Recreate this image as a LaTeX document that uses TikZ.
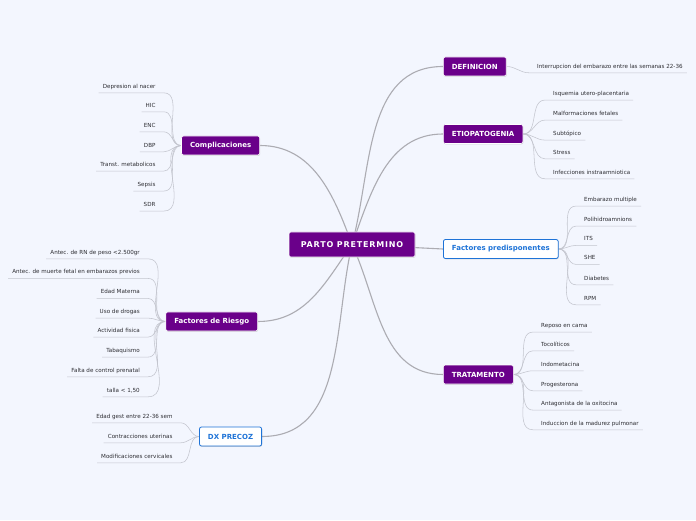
\documentclass[tikz,border=0pt]{standalone}
\usepackage{fontspec}
\setmainfont{DejaVu Sans}
\usepackage{tikz}
\usetikzlibrary{shadows}
\definecolor{mmpurple}{RGB}{106, 0, 138}
\definecolor{mmblue}{RGB}{30, 115, 215}
\definecolor{mmback}{RGB}{243, 246, 254}
\definecolor{mmline}{RGB}{172, 172, 178}
\definecolor{mmtwig}{RGB}{195, 197, 206}
\definecolor{mmtext}{RGB}{45, 45, 50}
\pgfdeclarelayer{bg}
\pgfdeclarelayer{edges}
\pgfsetlayers{bg,edges,main}

\begin{document}
\begin{tikzpicture}[x=1pt, y=1pt,
  hub/.style={fill=mmpurple, draw=white, line width=0.6pt, rounded corners=2pt,
              text=white, font=\fontsize{8}{9}\selectfont\bfseries\addfontfeature{LetterSpace=10},
              minimum width=126pt, minimum height=25pt, inner sep=0pt,
              drop shadow={shadow xshift=0.5pt, shadow yshift=-0.8pt, opacity=0.3}},
  topic/.style={fill=mmpurple, draw=white, line width=0.6pt, rounded corners=2pt,
                text=white, font=\fontsize{7}{8}\selectfont\bfseries,
                minimum height=19pt, inner xsep=8.5pt, inner ysep=0pt,
                drop shadow={shadow xshift=0.5pt, shadow yshift=-0.8pt, opacity=0.3}},
  topicb/.style={topic, fill=white, draw=mmblue, line width=0.8pt, text=mmblue},
  leaf/.style={font=\fontsize{5.6}{6.5}\selectfont, text=mmtext,
               text height=4pt, text depth=1.2pt, inner xsep=4pt, inner ysep=3.3pt},
  branch/.style={draw=mmline, line width=1.1pt},
  twig/.style={draw=mmtwig, line width=0.55pt}]
  \useasboundingbox (0,0) rectangle (696,520);
  \begin{pgfonlayer}{bg}
    \fill[mmback] (0,0) rectangle (696,520);
  \end{pgfonlayer}

  % centre and main topics
  \node[hub] (root) at (352,275.5) {PARTO PRETERMINO};
  \node[topic, anchor=west]  (defi) at (443,453.5) {DEFINICION};
  \node[topic, anchor=west]  (etio) at (443,386)   {ETIOPATOGENIA};
  \node[topicb, anchor=west] (fpre) at (443,271)   {Factores predisponentes};
  \node[topic, anchor=west]  (trat) at (443,145.5) {TRATAMENTO};
  \node[topic, anchor=east]  (comp) at (260,374.5) {Complicaciones};
  \node[topic, anchor=east]  (frie) at (258,198.5) {Factores de Riesgo};
  \node[topicb, anchor=east] (dxpr) at (262,83.5)  {DX PRECOZ};

  % right side leaves
  \node[leaf, anchor=west] (defi1) at (533,453.3) {Interrupcion del embarazo entre las semanas 22-36};

  \node[leaf, anchor=west] (etio1) at (549,426)   {Isquemia utero-placentaria};
  \node[leaf, anchor=west] (etio2) at (549,406)   {Malformaciones fetales};
  \node[leaf, anchor=west] (etio3) at (549,386)   {Subtópico};
  \node[leaf, anchor=west] (etio4) at (549,367.3) {Stress};
  \node[leaf, anchor=west] (etio5) at (549,347.3) {Infecciones instraamniotica};

  \node[leaf, anchor=west] (fpre1) at (580,320)   {Embarazo multiple};
  \node[leaf, anchor=west] (fpre2) at (580,300)   {Polihidroamnions};
  \node[leaf, anchor=west] (fpre3) at (580,280.7) {ITS};
  \node[leaf, anchor=west] (fpre4) at (580,261.7) {SHE};
  \node[leaf, anchor=west] (fpre5) at (580,241.3) {Diabetes};
  \node[leaf, anchor=west] (fpre6) at (580,221.3) {RPM};

  \node[leaf, anchor=west] (trat1) at (537,194)   {Reposo en cama};
  \node[leaf, anchor=west] (trat2) at (537,175.3) {Tocolíticos};
  \node[leaf, anchor=west] (trat3) at (537,155.3) {Indometacina};
  \node[leaf, anchor=west] (trat4) at (537,135.3) {Progesterona};
  \node[leaf, anchor=west] (trat5) at (537,116)   {Antagonista de la oxitocina};
  \node[leaf, anchor=west] (trat6) at (537,96.3)  {Induccion de la madurez pulmonar};

  % left side leaves
  \node[leaf, anchor=east] (comp1) at (159.7,433.3) {Depresion al nacer};
  \node[leaf, anchor=east] (comp2) at (159.7,414.3) {HIC};
  \node[leaf, anchor=east] (comp3) at (159.7,394.3) {ENC};
  \node[leaf, anchor=east] (comp4) at (159.7,374.3) {DBP};
  \node[leaf, anchor=east] (comp5) at (159.7,355)   {Transt. metabolicos};
  \node[leaf, anchor=east] (comp6) at (159.7,335)   {Sepsis};
  \node[leaf, anchor=east] (comp7) at (159.7,315)   {SDR};

  \node[leaf, anchor=east] (frie1) at (144,267.3) {Antec. de RN de peso <2.500gr};
  \node[leaf, anchor=east] (frie2) at (144,247.7) {Antec. de muerte fetal en embarazos previos};
  \node[leaf, anchor=east] (frie3) at (144,227.7) {Edad Materna};
  \node[leaf, anchor=east] (frie4) at (144,208)   {Uso de drogas};
  \node[leaf, anchor=east] (frie5) at (144,189)   {Actividad fisica};
  \node[leaf, anchor=east] (frie6) at (144,169)   {Tabaquismo};
  \node[leaf, anchor=east] (frie7) at (144,149.3) {Falta de control prenatal};
  \node[leaf, anchor=east] (frie8) at (144,129.3) {talla < 1,50};

  \node[leaf, anchor=east] (dxpr1) at (176.7,103.3) {Edad gest entre 22-36 sem};
  \node[leaf, anchor=east] (dxpr2) at (176.7,83.3)  {Contracciones uterinas};
  \node[leaf, anchor=east] (dxpr3) at (176.7,63.3)  {Modificaciones cervicales};

  \begin{pgfonlayer}{edges}
    % main branches
    \draw[branch] (root.center) to[out=75, in=180] (defi.west);
    \draw[branch] (root.center) to[out=70, in=180] (etio.west);
    \draw[branch] (root.center) -- (fpre.west);
    \draw[branch] (root.center) to[out=-65, in=180] (trat.west);
    \draw[branch] (root.center) to[out=110, in=0] (comp.east);
    \draw[branch] (root.center) to[out=-125, in=0] (frie.east);
    \draw[branch] (root.center) to[out=-103, in=0] (dxpr.east);
    % twigs to the right
    \draw[twig] (defi.east) to[out=0, in=180] ([xshift=-4pt]defi1.south west) -- (defi1.south east);
    \draw[twig] (etio.east) to[out=0, in=180] ([xshift=-4pt]etio1.south west) -- (etio1.south east);
    \draw[twig] (etio.east) to[out=0, in=180] ([xshift=-4pt]etio2.south west) -- (etio2.south east);
    \draw[twig] (etio.east) to[out=0, in=180] ([xshift=-4pt]etio3.south west) -- (etio3.south east);
    \draw[twig] (etio.east) to[out=0, in=180] ([xshift=-4pt]etio4.south west) -- (etio4.south east);
    \draw[twig] (etio.east) to[out=0, in=180] ([xshift=-4pt]etio5.south west) -- (etio5.south east);
    \draw[twig] (fpre.east) to[out=0, in=180] ([xshift=-4pt]fpre1.south west) -- (fpre1.south east);
    \draw[twig] (fpre.east) to[out=0, in=180] ([xshift=-4pt]fpre2.south west) -- (fpre2.south east);
    \draw[twig] (fpre.east) to[out=0, in=180] ([xshift=-4pt]fpre3.south west) -- (fpre3.south east);
    \draw[twig] (fpre.east) to[out=0, in=180] ([xshift=-4pt]fpre4.south west) -- (fpre4.south east);
    \draw[twig] (fpre.east) to[out=0, in=180] ([xshift=-4pt]fpre5.south west) -- (fpre5.south east);
    \draw[twig] (fpre.east) to[out=0, in=180] ([xshift=-4pt]fpre6.south west) -- (fpre6.south east);
    \draw[twig] (trat.east) to[out=0, in=180] ([xshift=-4pt]trat1.south west) -- (trat1.south east);
    \draw[twig] (trat.east) to[out=0, in=180] ([xshift=-4pt]trat2.south west) -- (trat2.south east);
    \draw[twig] (trat.east) to[out=0, in=180] ([xshift=-4pt]trat3.south west) -- (trat3.south east);
    \draw[twig] (trat.east) to[out=0, in=180] ([xshift=-4pt]trat4.south west) -- (trat4.south east);
    \draw[twig] (trat.east) to[out=0, in=180] ([xshift=-4pt]trat5.south west) -- (trat5.south east);
    \draw[twig] (trat.east) to[out=0, in=180] ([xshift=-4pt]trat6.south west) -- (trat6.south east);
    % twigs to the left
    \draw[twig] (comp.west) to[out=180, in=0] ([xshift=4pt]comp1.south east) -- (comp1.south west);
    \draw[twig] (comp.west) to[out=180, in=0] ([xshift=4pt]comp2.south east) -- (comp2.south west);
    \draw[twig] (comp.west) to[out=180, in=0] ([xshift=4pt]comp3.south east) -- (comp3.south west);
    \draw[twig] (comp.west) to[out=180, in=0] ([xshift=4pt]comp4.south east) -- (comp4.south west);
    \draw[twig] (comp.west) to[out=180, in=0] ([xshift=4pt]comp5.south east) -- (comp5.south west);
    \draw[twig] (comp.west) to[out=180, in=0] ([xshift=4pt]comp6.south east) -- (comp6.south west);
    \draw[twig] (comp.west) to[out=180, in=0] ([xshift=4pt]comp7.south east) -- (comp7.south west);
    \draw[twig] (frie.west) to[out=180, in=0] ([xshift=4pt]frie1.south east) -- (frie1.south west);
    \draw[twig] (frie.west) to[out=180, in=0] ([xshift=4pt]frie2.south east) -- (frie2.south west);
    \draw[twig] (frie.west) to[out=180, in=0] ([xshift=4pt]frie3.south east) -- (frie3.south west);
    \draw[twig] (frie.west) to[out=180, in=0] ([xshift=4pt]frie4.south east) -- (frie4.south west);
    \draw[twig] (frie.west) to[out=180, in=0] ([xshift=4pt]frie5.south east) -- (frie5.south west);
    \draw[twig] (frie.west) to[out=180, in=0] ([xshift=4pt]frie6.south east) -- (frie6.south west);
    \draw[twig] (frie.west) to[out=180, in=0] ([xshift=4pt]frie7.south east) -- (frie7.south west);
    \draw[twig] (frie.west) to[out=180, in=0] ([xshift=4pt]frie8.south east) -- (frie8.south west);
    \draw[twig] (dxpr.west) to[out=180, in=0] ([xshift=4pt]dxpr1.south east) -- (dxpr1.south west);
    \draw[twig] (dxpr.west) to[out=180, in=0] ([xshift=4pt]dxpr2.south east) -- (dxpr2.south west);
    \draw[twig] (dxpr.west) to[out=180, in=0] ([xshift=4pt]dxpr3.south east) -- (dxpr3.south west);
  \end{pgfonlayer}
\end{tikzpicture}
\end{document}
